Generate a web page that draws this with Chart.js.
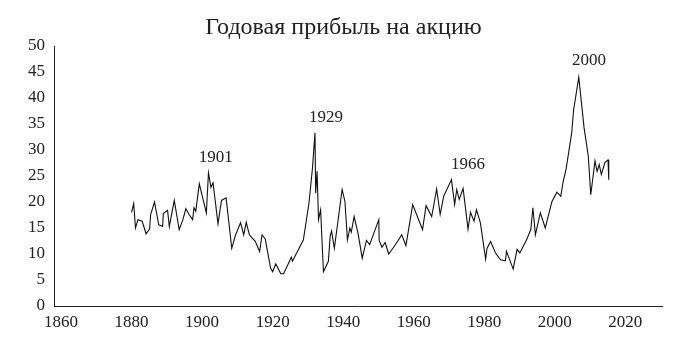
<!DOCTYPE html>
<html>
<head>
<meta charset="utf-8">
<script src="https://cdn.jsdelivr.net/npm/chart.js@4"></script>
<style>
  html, body { margin: 0; padding: 0; background: #fff; }
  #wrap { width: 687px; height: 364px; }
</style>
</head>
<body>
<div id="wrap"><canvas id="chart" width="687" height="364"></canvas></div>
<script>
// positions on the year axis
const years = [
  1880, 1880.6, 1881.1, 1881.8, 1883, 1884.1, 1885.1, 1885.4, 1886.5, 1887.7,
  1888.8, 1889, 1890.2, 1890.7, 1892.1, 1893.5, 1894.5, 1895.4, 1896.3, 1897.3,
  1897.7, 1898.2, 1899.2, 1901.2, 1901.8, 1902.5, 1903.1, 1904.5, 1905.5, 1906.8,
  1908.4, 1909.5, 1910.9, 1911.8, 1912.5, 1913.4, 1915.1, 1916.3, 1917, 1917.9,
  1919.4, 1920, 1920.9, 1922.3, 1923.1, 1924.5, 1925.3, 1925.6, 1928.7, 1930.3,
  1931.3, 1932, 1932.2, 1932.6, 1933, 1933.6, 1934.4, 1935.8, 1936.3, 1936.7,
  1937.5, 1939.7, 1940.5, 1941.2, 1941.9, 1942.3, 1943.1, 1944.2, 1945.4, 1946.6,
  1947.5, 1950.1, 1950.2, 1951, 1951.9, 1952.9, 1954.2, 1955.5, 1956.6, 1957.8,
  1959.7, 1962.5, 1963.5, 1965.1, 1966.5, 1967.5, 1968.5, 1970.7, 1971.6, 1972.2,
  1972.9, 1974, 1975.4, 1976.1, 1977.1, 1977.8, 1978.9, 1980.4, 1980.8, 1981.8,
  1983.2, 1984.6, 1986, 1986.3, 1988.2, 1989.3, 1990.1, 1992.1, 1993.2, 1993.8,
  1994.5, 1995.9, 1997.3, 1999.2, 2000.6, 2001.7, 2002.3, 2003.2, 2004.8, 2005.3,
  2006.8, 2008.3, 2009.5, 2010.2, 2011.4, 2012, 2012.6, 2013.2, 2014.2, 2015.1,
  2015.3
];
const earnings = [
  18.0, 19.7, 15.0, 16.6, 16.3, 13.9, 14.8, 17.6, 20.0, 15.6,
  15.3, 17.8, 18.4, 15.3, 20.3, 14.7, 16.5, 18.7, 17.6, 16.6,
  18.9, 18.2, 23.5, 17.9, 25.6, 22.8, 23.7, 15.8, 20.3, 20.8,
  11.1, 13.7, 16.0, 13.7, 16.1, 13.7, 12.4, 10.5, 13.7, 12.9,
  7.3, 6.6, 8.1, 6.2, 6.2, 8.2, 9.4, 8.6, 12.7, 19.8,
  26.6, 33.3, 21.7, 25.9, 16.6, 18.5, 6.6, 8.6, 13.4, 14.4,
  11.1, 22.4, 20.1, 12.7, 15.0, 14.2, 17.2, 14.0, 9.2, 12.6,
  11.8, 16.6, 12.6, 11.3, 12.2, 10.0, 11.2, 12.5, 13.7, 11.6,
  19.5, 14.7, 19.3, 17.2, 22.5, 17.6, 21.1, 24.3, 19.5, 22.4,
  20.5, 22.6, 14.8, 18.0, 16.3, 18.5, 16.0, 9.0, 11.1, 12.4,
  10.2, 8.9, 8.7, 10.5, 7.1, 10.9, 10.2, 12.9, 14.7, 18.9,
  13.7, 17.9, 15.0, 20.1, 21.9, 21.1, 23.7, 26.3, 33.3, 37.5,
  44.0, 34.3, 28.8, 21.4, 27.9, 25.9, 27.2, 25.3, 27.6, 28.1,
  24.3
];

const xTicks = [1860, 1880, 1900, 1920, 1940, 1960, 1980, 2000, 2020];
const yTicks = [0, 5, 10, 15, 20, 25, 30, 35, 40, 45, 50];

// peak captions (text, year position, value position)
const peakText = ['1901', '1929', '1966', '2000'];
const peakYear = [1903.9, 1935.1, 1975.4, 2009.7];
const peakVal  = [28.5, 36.3, 27.3, 47.3];

const chartTitle = 'Годовая прибыль на акцию';
const serif = "'Liberation Serif', 'DejaVu Serif', serif";

const textLayer = {
  id: 'textLayer',
  afterDatasetsDraw(chart) {
    const {ctx, scales} = chart;
    ctx.save();
    ctx.fillStyle = '#222';
    ctx.textAlign = 'center';
    ctx.textBaseline = 'middle';
    // title centred over the whole picture
    ctx.font = '24px ' + serif;
    ctx.fillText(chartTitle, chart.width / 2, 28);
    ctx.font = '17px ' + serif;
    peakText.forEach((t, i) => {
      ctx.fillText(t, scales.x.getPixelForValue(peakYear[i]), scales.y.getPixelForValue(peakVal[i]));
    });
    ctx.restore();
  }
};

const points = years.map((yr, i) => ({x: yr, y: earnings[i]}));

new Chart(document.getElementById('chart').getContext('2d'), {
  type: 'line',
  data: {
    datasets: [{
      data: points,
      borderColor: '#111',
      borderWidth: 1.1,
      pointRadius: 0,
      tension: 0,
      fill: false
    }]
  },
  options: {
    responsive: false,
    animation: false,
    layout: { padding: { left: 0, right: 25, top: 46, bottom: 0 } },
    plugins: {
      legend: { display: false },
      tooltip: { enabled: false },
      title: { display: false }
    },
    scales: {
      x: {
        type: 'linear',
        min: 1858,
        max: 2030.4,
        afterBuildTicks: (s) => { s.ticks = xTicks.map(v => ({value: v})); },
        afterFit: (s) => { s.height = 58; },
        grid: { display: false, drawTicks: false },
        border: { display: true, color: '#222', width: 1 },
        ticks: {
          color: '#222', font: { family: serif, size: 17 }, padding: 6, maxRotation: 0,
          callback: (v) => String(v)
        }
      },
      y: {
        min: 0,
        max: 50,
        afterBuildTicks: (s) => { s.ticks = yTicks.map(v => ({value: v})); },
        afterFit: (s) => { s.width = 54; },
        grid: { display: false, drawTicks: false },
        border: { display: true, color: '#222', width: 1 },
        ticks: { color: '#222', font: { family: serif, size: 17 }, padding: 9 }
      }
    }
  },
  plugins: [textLayer]
});
</script>
</body>
</html>
